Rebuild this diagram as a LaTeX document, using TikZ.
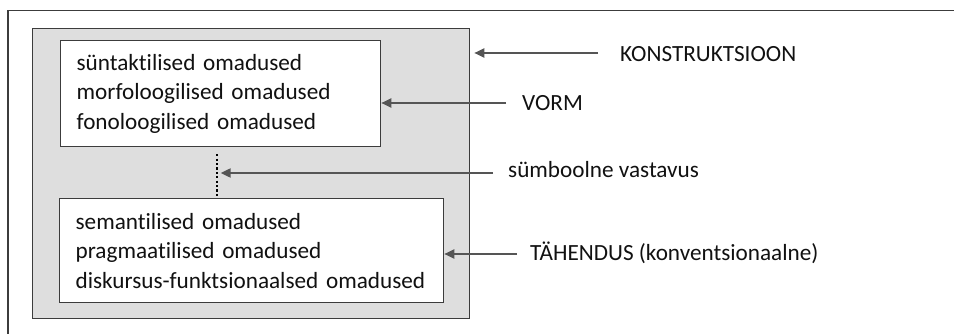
\documentclass[tikz,border=0pt]{standalone}
\usepackage{fontspec}
\setmainfont{Carlito}[Ligatures=NoCommon]
\usepackage{tikz}
\usetikzlibrary{arrows.meta,positioning,calc}

\definecolor{framegray}{HTML}{3C3C3C}
\definecolor{fillgray}{HTML}{DEDEDE}
\definecolor{arrowgray}{HTML}{555555}
\definecolor{textblack}{HTML}{111111}

\begin{document}
\begin{tikzpicture}[
    x=1pt, y=-1pt,
    font=\fontsize{23.2}{29.5}\selectfont, text=textblack,
    outer/.style={draw=framegray, line width=1.3pt, fill=fillgray, rectangle, anchor=north west, inner sep=0pt},
    propbox/.style={draw=framegray, line width=1.3pt, fill=white, rectangle, anchor=north west, align=left, inner xsep=16pt, inner ysep=0pt},
    lbl/.style={anchor=base west, inner sep=0pt},
    arrow/.style={-{Triangle[length=10pt,width=9pt]}, line width=2pt, draw=arrowgray},
    dots/.style={draw=black, line width=2.2pt, dash pattern=on 2.2pt off 2.2pt}
]
    \useasboundingbox (0,0) rectangle (954,334);

    % Frame
    \draw[framegray, line width=1.2pt] (8,334) -- (8,10.5) -- (954,10.5);

    % Construction
    \node[outer, minimum width=437pt, minimum height=290pt] (gray) at (32,28) {};

    % Form and meaning
    \node[propbox, text width=288pt, minimum height=106pt] (formbox) at (60,40)
        {süntaktilised omadused\\ morfoloogilised omadused\\ fonoloogilised omadused};
    \node[propbox, text width=352pt, minimum height=104pt] (meanbox) at (59,198)
        {semantilised omadused\\ pragmaatilised omadused\\ diskursus-funktsionaalsed omadused};

    % Symbolic link
    \draw[dots] ([xshift=-4pt,yshift=-7pt]formbox.south) coordinate (d1) -- (d1 |- meanbox.north);

    % Labels
    \node[lbl] (konlbl) at (620,61.7) {KONSTRUKTSIOON};
    \node[lbl] (vormlbl) at (522,110.7) {VORM};
    \node[lbl] (symlbl) at (508,178) {sümboolne vastavus};
    \node[lbl] (tahlbl) at (530,260.7) {TÄHENDUS (konventsionaalne)};

    % Connections
    \draw[arrow] ($(konlbl.base west)+(-22,-8.7)$) -- ($(konlbl.base west -| gray.east)+(4,-8.7)$);
    \draw[arrow] ($(vormlbl.base west)+(-16,-7.7)$) -- ($(vormlbl.base west -| formbox.east)+(0,-7.7)$);
    \draw[arrow] ($(symlbl.base west)+(-15,-5)$) -- ($(symlbl.base west -| d1)+(4,-5)$);
    \draw[arrow] ($(tahlbl.base west)+(-13,-6.7)$) -- ($(tahlbl.base west -| meanbox.east)+(0,-6.7)$);

\end{tikzpicture}
\end{document}
